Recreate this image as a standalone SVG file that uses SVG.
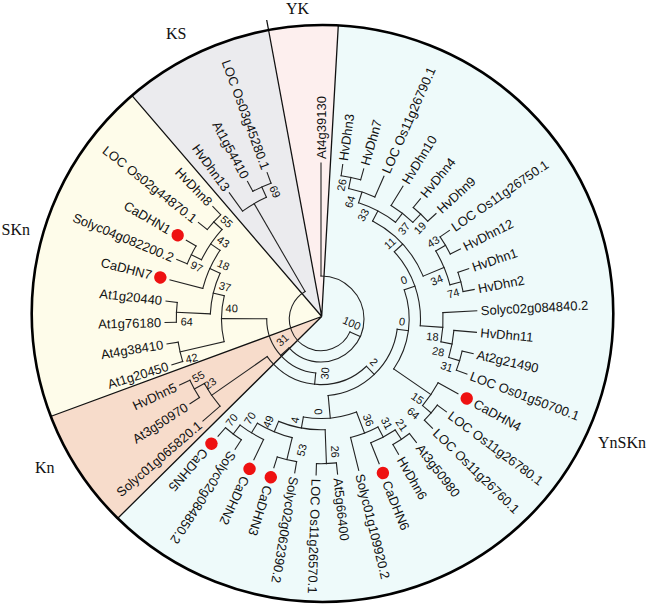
<svg xmlns="http://www.w3.org/2000/svg" width="648" height="612" viewBox="0 0 648 612">
<style>
.w{stroke:none}
.bd{stroke:#111;stroke-width:1.3;fill:none}
.br line,.br circle{fill:none;stroke:#222;stroke-width:1.1;stroke-linecap:square}
.lf{font-family:"Liberation Sans",Arial,sans-serif;font-size:13px;fill:#111}
.bs{font-family:"Liberation Sans",Arial,sans-serif;font-size:11px;fill:#111;text-anchor:middle}
.ttl{font-family:"Liberation Serif","Times New Roman",serif;font-size:16px;fill:#111}
.dot{fill:#ee1111}
</style>
<rect width="648" height="612" fill="#fff"/>
<g id="wedges">
<path class="w" fill="#ebebee" d="M321.7,316.5 L132,95.7 A290.8,288.5 0 0 1 268,30.1 Z"/>
<path class="w" fill="#fdefee" d="M321.7,316.5 L268,30.1 A290.8,288.5 0 0 1 338.3,25.4 Z"/>
<path class="w" fill="#eefafa" d="M321.7,316.5 L338.3,25.4 A290.8,288.5 0 1 1 118,518 Z"/>
<path class="w" fill="#f7dccb" d="M321.7,316.5 L118,518 A290.8,288.5 0 0 1 50.5,416.5 Z"/>
<path class="w" fill="#fefcea" d="M321.7,316.5 L50.5,416.5 A290.8,288.5 0 0 1 132,95.7 Z"/>
<path class="bd" d="M321.7,316.5 L132,95.7 M321.7,316.5 L266.7,20 M321.7,316.5 L338.3,25.4 M321.7,316.5 L50.5,416.5 M321.7,316.5 L118,518"/>
<ellipse cx="322.5" cy="313.5" rx="290.8" ry="288.5" fill="none" stroke="#000" stroke-width="2.6"/>
</g>
<g id="titles">
<text class="ttl" x="286" y="14">YK</text>
<text class="ttl" x="166" y="38.5">KS</text>
<text class="ttl" x="1.5" y="235">SKn</text>
<text class="ttl" x="35" y="472.5">Kn</text>
<text class="ttl" x="598" y="448">YnSKn</text>
</g>
<g id="connectors" class="br" transform="translate(321 319)">
<circle r="31.7" pathLength="360" stroke-dasharray="215.9 400" transform="rotate(24)"/>
<circle r="43" pathLength="360" stroke-dasharray="227.9 400" transform="rotate(-90)"/>
<circle r="54.3" pathLength="360" stroke-dasharray="84.6 400" transform="rotate(95.6)"/>
<circle r="65.6" pathLength="360" stroke-dasharray="99 400" transform="rotate(46.1)"/>
<circle r="76.9" pathLength="360" stroke-dasharray="77.05 400" transform="rotate(7.6)"/>
<circle r="88.2" pathLength="360" stroke-dasharray="53.8 400" transform="rotate(-19.3)"/>
<circle r="99.5" pathLength="360" stroke-dasharray="46.4 400" transform="rotate(-42.5)"/>
<circle r="110.8" pathLength="360" stroke-dasharray="39.5 400" transform="rotate(-62.25)"/>
<circle r="122.1" pathLength="360" stroke-dasharray="19.7 400" transform="rotate(-72.1)"/>
<circle r="133.4" pathLength="360" stroke-dasharray="11.85 400" transform="rotate(-78.05)"/>
<circle r="144.7" pathLength="360" stroke-dasharray="7.9 400" transform="rotate(-82)"/>
<circle r="133.4" pathLength="360" stroke-dasharray="11.85 400" transform="rotate(-58.3)"/>
<circle r="144.7" pathLength="360" stroke-dasharray="7.9 400" transform="rotate(-50.4)"/>
<circle r="133.4" pathLength="360" stroke-dasharray="15.8 400" transform="rotate(-30.65)"/>
<circle r="144.7" pathLength="360" stroke-dasharray="7.9 400" transform="rotate(-34.6)"/>
<circle r="144.7" pathLength="360" stroke-dasharray="7.9 400" transform="rotate(-18.8)"/>
<circle r="122.1" pathLength="360" stroke-dasharray="13.8 400" transform="rotate(-3)"/>
<circle r="133.4" pathLength="360" stroke-dasharray="11.85 400" transform="rotate(4.9)"/>
<circle r="144.7" pathLength="360" stroke-dasharray="7.9 400" transform="rotate(12.8)"/>
<circle r="133.4" pathLength="360" stroke-dasharray="11.85 400" transform="rotate(28.6)"/>
<circle r="144.7" pathLength="360" stroke-dasharray="7.9 400" transform="rotate(36.5)"/>
<circle r="99.5" pathLength="360" stroke-dasharray="31.1 400" transform="rotate(69.1)"/>
<circle r="122.1" pathLength="360" stroke-dasharray="13.8 400" transform="rotate(62.2)"/>
<circle r="133.4" pathLength="360" stroke-dasharray="11.85 400" transform="rotate(56.25)"/>
<circle r="144.7" pathLength="360" stroke-dasharray="7.9 400" transform="rotate(52.3)"/>
<circle r="110.8" pathLength="360" stroke-dasharray="24.65 400" transform="rotate(87.85)"/>
<circle r="144.7" pathLength="360" stroke-dasharray="7.9 400" transform="rotate(83.9)"/>
<circle r="122.1" pathLength="360" stroke-dasharray="17.75 400" transform="rotate(103.65)"/>
<circle r="144.7" pathLength="360" stroke-dasharray="7.9 400" transform="rotate(99.7)"/>
<circle r="133.4" pathLength="360" stroke-dasharray="11.85 400" transform="rotate(115.5)"/>
<circle r="144.7" pathLength="360" stroke-dasharray="7.9 400" transform="rotate(123.4)"/>
<circle r="133.4" pathLength="360" stroke-dasharray="11.85 400" transform="rotate(139.2)"/>
<circle r="144.7" pathLength="360" stroke-dasharray="7.9 400" transform="rotate(147.1)"/>
<circle r="99.5" pathLength="360" stroke-dasharray="26.65 400" transform="rotate(166.85)"/>
<circle r="144.7" pathLength="360" stroke-dasharray="7.9 400" transform="rotate(162.9)"/>
<circle r="110.8" pathLength="360" stroke-dasharray="21.75 400" transform="rotate(182.65)"/>
<circle r="144.7" pathLength="360" stroke-dasharray="7.9 400" transform="rotate(178.7)"/>
<circle r="122.1" pathLength="360" stroke-dasharray="19.75 400" transform="rotate(194.5)"/>
<circle r="133.4" pathLength="360" stroke-dasharray="15.8 400" transform="rotate(206.35)"/>
<circle r="144.7" pathLength="360" stroke-dasharray="7.9 400" transform="rotate(202.4)"/>
<circle r="144.7" pathLength="360" stroke-dasharray="7.9 400" transform="rotate(218.2)"/>
<circle r="133.4" pathLength="360" stroke-dasharray="11.85 400" transform="rotate(234)"/>
<circle r="144.7" pathLength="360" stroke-dasharray="7.9 400" transform="rotate(241.9)"/>
<line x1="31.7" x2="43" transform="rotate(24)"/>
<line x1="31.7" x2="133.4" transform="rotate(239.9)"/>
<line x1="43" x2="156" transform="rotate(-90)"/>
<line x1="43" x2="54.3" transform="rotate(137.9)"/>
<line x1="54.3" x2="65.6" transform="rotate(95.6)"/>
<line x1="54.3" x2="99.5" transform="rotate(180.2)"/>
<line x1="65.6" x2="76.9" transform="rotate(46.1)"/>
<line x1="65.6" x2="133.4" transform="rotate(145.1)"/>
<line x1="76.9" x2="88.2" transform="rotate(7.6)"/>
<line x1="76.9" x2="99.5" transform="rotate(84.65)"/>
<line x1="88.2" x2="99.5" transform="rotate(-19.3)"/>
<line x1="88.2" x2="133.4" transform="rotate(34.5)"/>
<line x1="99.5" x2="110.8" transform="rotate(-42.5)"/>
<line x1="99.5" x2="122.1" transform="rotate(3.9)"/>
<line x1="110.8" x2="122.1" transform="rotate(-62.25)"/>
<line x1="110.8" x2="133.4" transform="rotate(-22.75)"/>
<line x1="122.1" x2="133.4" transform="rotate(-72.1)"/>
<line x1="122.1" x2="133.4" transform="rotate(-52.4)"/>
<line x1="133.4" x2="144.7" transform="rotate(-78.05)"/>
<line x1="133.4" x2="156" transform="rotate(-66.2)"/>
<line x1="144.7" x2="156" transform="rotate(-82)"/>
<line x1="144.7" x2="156" transform="rotate(-74.1)"/>
<line x1="133.4" x2="156" transform="rotate(-58.3)"/>
<line x1="133.4" x2="144.7" transform="rotate(-46.45)"/>
<line x1="144.7" x2="156" transform="rotate(-50.4)"/>
<line x1="144.7" x2="156" transform="rotate(-42.5)"/>
<line x1="133.4" x2="144.7" transform="rotate(-30.65)"/>
<line x1="133.4" x2="144.7" transform="rotate(-14.85)"/>
<line x1="144.7" x2="156" transform="rotate(-34.6)"/>
<line x1="144.7" x2="156" transform="rotate(-26.7)"/>
<line x1="144.7" x2="156" transform="rotate(-18.8)"/>
<line x1="144.7" x2="156" transform="rotate(-10.9)"/>
<line x1="122.1" x2="156" transform="rotate(-3)"/>
<line x1="122.1" x2="133.4" transform="rotate(10.8)"/>
<line x1="133.4" x2="156" transform="rotate(4.9)"/>
<line x1="133.4" x2="144.7" transform="rotate(16.75)"/>
<line x1="144.7" x2="156" transform="rotate(12.8)"/>
<line x1="144.7" x2="156" transform="rotate(20.7)"/>
<line x1="133.4" x2="156" transform="rotate(28.6)"/>
<line x1="133.4" x2="144.7" transform="rotate(40.45)"/>
<line x1="144.7" x2="156" transform="rotate(36.5)"/>
<line x1="144.7" x2="156" transform="rotate(44.4)"/>
<line x1="99.5" x2="122.1" transform="rotate(69.1)"/>
<line x1="99.5" x2="110.8" transform="rotate(100.2)"/>
<line x1="122.1" x2="133.4" transform="rotate(62.2)"/>
<line x1="122.1" x2="156" transform="rotate(76)"/>
<line x1="133.4" x2="144.7" transform="rotate(56.25)"/>
<line x1="133.4" x2="156" transform="rotate(68.1)"/>
<line x1="144.7" x2="156" transform="rotate(52.3)"/>
<line x1="144.7" x2="156" transform="rotate(60.2)"/>
<line x1="110.8" x2="144.7" transform="rotate(87.85)"/>
<line x1="110.8" x2="122.1" transform="rotate(112.5)"/>
<line x1="144.7" x2="156" transform="rotate(83.9)"/>
<line x1="144.7" x2="156" transform="rotate(91.8)"/>
<line x1="122.1" x2="144.7" transform="rotate(103.65)"/>
<line x1="122.1" x2="133.4" transform="rotate(121.4)"/>
<line x1="144.7" x2="156" transform="rotate(99.7)"/>
<line x1="144.7" x2="156" transform="rotate(107.6)"/>
<line x1="133.4" x2="156" transform="rotate(115.5)"/>
<line x1="133.4" x2="144.7" transform="rotate(127.35)"/>
<line x1="144.7" x2="156" transform="rotate(123.4)"/>
<line x1="144.7" x2="156" transform="rotate(131.3)"/>
<line x1="133.4" x2="156" transform="rotate(139.2)"/>
<line x1="133.4" x2="144.7" transform="rotate(151.05)"/>
<line x1="144.7" x2="156" transform="rotate(147.1)"/>
<line x1="144.7" x2="156" transform="rotate(155)"/>
<line x1="99.5" x2="144.7" transform="rotate(166.85)"/>
<line x1="99.5" x2="110.8" transform="rotate(193.5)"/>
<line x1="144.7" x2="156" transform="rotate(162.9)"/>
<line x1="144.7" x2="156" transform="rotate(170.8)"/>
<line x1="110.8" x2="144.7" transform="rotate(182.65)"/>
<line x1="110.8" x2="122.1" transform="rotate(204.4)"/>
<line x1="144.7" x2="156" transform="rotate(178.7)"/>
<line x1="144.7" x2="156" transform="rotate(186.6)"/>
<line x1="122.1" x2="156" transform="rotate(194.5)"/>
<line x1="122.1" x2="133.4" transform="rotate(214.25)"/>
<line x1="133.4" x2="144.7" transform="rotate(206.35)"/>
<line x1="133.4" x2="144.7" transform="rotate(222.15)"/>
<line x1="144.7" x2="156" transform="rotate(202.4)"/>
<line x1="144.7" x2="156" transform="rotate(210.3)"/>
<line x1="144.7" x2="156" transform="rotate(218.2)"/>
<line x1="144.7" x2="156" transform="rotate(226.1)"/>
<line x1="133.4" x2="156" transform="rotate(234)"/>
<line x1="133.4" x2="144.7" transform="rotate(245.85)"/>
<line x1="144.7" x2="156" transform="rotate(241.9)"/>
<line x1="144.7" x2="156" transform="rotate(249.8)"/>
</g>
<g id="leaves" transform="translate(321 319)">
<g id="L0"><text class="lf" x="160" dy=".35em" transform="rotate(-90)">At4g39130</text></g>
<g id="L1"><text class="lf" x="160" dy=".35em" transform="rotate(-82)">HvDhn3</text></g>
<g id="L2"><text class="lf" x="160" dy=".35em" transform="rotate(-74.1)">HvDhn7</text></g>
<g id="L3"><text class="lf" x="160" dy=".35em" transform="rotate(-66.2)">LOC Os11g26790.1</text></g>
<g id="L4"><text class="lf" x="160" dy=".35em" transform="rotate(-58.3)">HvDhn10</text></g>
<g id="L5"><text class="lf" x="160" dy=".35em" transform="rotate(-50.4)">HvDhn4</text></g>
<g id="L6"><text class="lf" x="160" dy=".35em" transform="rotate(-42.5)">HvDhn9</text></g>
<g id="L7"><text class="lf" x="160" dy=".35em" transform="rotate(-34.6)">LOC Os11g26750.1</text></g>
<g id="L8"><text class="lf" x="160" dy=".35em" transform="rotate(-26.7)">HvDhn12</text></g>
<g id="L9"><text class="lf" x="160" dy=".35em" transform="rotate(-18.8)">HvDhn1</text></g>
<g id="L10"><text class="lf" x="160" dy=".35em" transform="rotate(-10.9)">HvDhn2</text></g>
<g id="L11"><text class="lf" x="160" dy=".35em" transform="rotate(-3)">Solyc02g084840.2</text></g>
<g id="L12"><text class="lf" x="160" dy=".35em" transform="rotate(4.9)">HvDhn11</text></g>
<g id="L13"><text class="lf" x="160" dy=".35em" transform="rotate(12.8)">At2g21490</text></g>
<g id="L14"><text class="lf" x="160" dy=".35em" transform="rotate(20.7)">LOC Os01g50700.1</text></g>
<g id="L15" transform="rotate(28.6)"><circle class="dot" cx="166" r="6.2"/><text class="lf" x="175" dy=".35em">CaDHN4</text></g>
<g id="L16"><text class="lf" x="160" dy=".35em" transform="rotate(36.5)">LOC Os11g26780.1</text></g>
<g id="L17"><text class="lf" x="160" dy=".35em" transform="rotate(44.4)">LOC Os11g26760.1</text></g>
<g id="L18"><text class="lf" x="160" dy=".35em" transform="rotate(52.3)">At3g50980</text></g>
<g id="L19"><text class="lf" x="160" dy=".35em" transform="rotate(60.2)">HvDhn6</text></g>
<g id="L20" transform="rotate(68.1)"><circle class="dot" cx="166" r="6.2"/><text class="lf" x="175" dy=".35em">CaDHN6</text></g>
<g id="L21"><text class="lf" x="160" dy=".35em" transform="rotate(76)">Solyc01g109920.2</text></g>
<g id="L22"><text class="lf" x="160" dy=".35em" transform="rotate(83.9)">At5g66400</text></g>
<g id="L23"><text class="lf" x="160" dy=".35em" transform="rotate(91.8)">LOC Os11g26570.1</text></g>
<g id="L24"><text class="lf" x="160" dy=".35em" transform="rotate(99.7)">Solyc02g062390.2</text></g>
<g id="L25" transform="rotate(107.6)"><circle class="dot" cx="166" r="6.2"/><text class="lf" x="175" dy=".35em">CaDHN3</text></g>
<g id="L26" transform="rotate(115.5)"><circle class="dot" cx="166" r="6.2"/><text class="lf" x="175" dy=".35em">CaDHN2</text></g>
<g id="L27"><text class="lf" x="160" dy=".35em" transform="rotate(123.4)">Solyc02g084850.2</text></g>
<g id="L28" transform="rotate(131.3)"><circle class="dot" cx="166" r="6.2"/><text class="lf" x="175" dy=".35em">CaDHN5</text></g>
<g id="L29"><text class="lf" x="-160" dy=".35em" text-anchor="end" transform="rotate(-40.8)">Solyc01g065820.1</text></g>
<g id="L30"><text class="lf" x="-160" dy=".35em" text-anchor="end" transform="rotate(-32.9)">At3g50970</text></g>
<g id="L31"><text class="lf" x="-160" dy=".35em" text-anchor="end" transform="rotate(-25)">HvDhn5</text></g>
<g id="L32"><text class="lf" x="-160" dy=".35em" text-anchor="end" transform="rotate(-17.1)">At1g20450</text></g>
<g id="L33"><text class="lf" x="-160" dy=".35em" text-anchor="end" transform="rotate(-9.2)">At4g38410</text></g>
<g id="L34"><text class="lf" x="-160" dy=".35em" text-anchor="end" transform="rotate(-1.3)">At1g76180</text></g>
<g id="L35"><text class="lf" x="-160" dy=".35em" text-anchor="end" transform="rotate(6.6)">At1g20440</text></g>
<g id="L36" transform="rotate(14.5)"><circle class="dot" cx="-166" r="6.2"/><text class="lf" x="-175" dy=".35em" text-anchor="end">CaDHN7</text></g>
<g id="L37"><text class="lf" x="-160" dy=".35em" text-anchor="end" transform="rotate(22.4)">Solyc04g082200.2</text></g>
<g id="L38" transform="rotate(30.3)"><circle class="dot" cx="-166" r="6.2"/><text class="lf" x="-175" dy=".35em" text-anchor="end">CaDHN1</text></g>
<g id="L39"><text class="lf" x="-160" dy=".35em" text-anchor="end" transform="rotate(38.2)">LOC Os02g44870.1</text></g>
<g id="L40"><text class="lf" x="-160" dy=".35em" text-anchor="end" transform="rotate(46.1)">HvDhn8</text></g>
<g id="L41"><text class="lf" x="-160" dy=".35em" text-anchor="end" transform="rotate(54)">HvDhn13</text></g>
<g id="L42"><text class="lf" x="-160" dy=".35em" text-anchor="end" transform="rotate(61.9)">At1g54410</text></g>
<g id="L43"><text class="lf" x="-160" dy=".35em" text-anchor="end" transform="rotate(69.8)">LOC Os03g45280.1</text></g>
</g>
<g id="bootstrap">
<text class="bs" dy=".35em" transform="translate(341.7 185) rotate(-78)">26</text>
<text class="bs" dy=".35em" transform="translate(350 201.7) rotate(-72)">64</text>
<text class="bs" dy=".35em" transform="translate(363.3 215) rotate(-62)">33</text>
<text class="bs" dy=".35em" transform="translate(404 228.5) rotate(-52)">37</text>
<text class="bs" dy=".35em" transform="translate(420 228) rotate(-46)">19</text>
<text class="bs" dy=".35em" transform="translate(390 243.3) rotate(-42)">11</text>
<text class="bs" dy=".35em" transform="translate(433.3 241.7) rotate(-31)">43</text>
<text class="bs" dy=".35em" transform="translate(436.7 280) rotate(-23)">34</text>
<text class="bs" dy=".35em" transform="translate(453.3 293.3) rotate(-15)">74</text>
<text class="bs" dy=".35em" transform="translate(404 280) rotate(-19)">0</text>
<text class="bs" dy=".35em" transform="translate(402 321.7) rotate(8)">0</text>
<text class="bs" dy=".35em" transform="translate(432.5 336.7) rotate(4)">18</text>
<text class="bs" dy=".35em" transform="translate(438.3 351.7) rotate(11)">28</text>
<text class="bs" dy=".35em" transform="translate(446.7 366.7) rotate(17)">31</text>
<text class="bs" dy=".35em" transform="translate(417.5 398.3) rotate(34.5)">15</text>
<text class="bs" dy=".35em" transform="translate(413.3 413.3) rotate(40)">64</text>
<text class="bs" dy=".35em" transform="translate(401.7 425) rotate(56)">21</text>
<text class="bs" dy=".35em" transform="translate(386.7 423.3) rotate(62)">31</text>
<text class="bs" dy=".35em" transform="translate(368.3 420) rotate(69)">36</text>
<text class="bs" dy=".35em" transform="translate(335 451.7) rotate(88)">26</text>
<text class="bs" dy=".35em" transform="translate(318.3 411.7) rotate(85)">0</text>
<text class="bs" dy=".35em" transform="translate(295 420) rotate(-80)">4</text>
<text class="bs" dy=".35em" transform="translate(301.7 450) rotate(-76)">53</text>
<text class="bs" dy=".35em" transform="translate(268.3 421.7) rotate(-67.5)">49</text>
<text class="bs" dy=".35em" transform="translate(250 418.3) rotate(-58.6)">70</text>
<text class="bs" dy=".35em" transform="translate(231.7 420) rotate(-52.6)">70</text>
<text class="bs" dy=".35em" transform="translate(374 362) rotate(46)">2</text>
<text class="bs" dy=".35em" transform="translate(325 373.3) rotate(-84.4)">30</text>
<text class="bs" dy=".35em" transform="translate(351.7 323.3) rotate(24)">100</text>
<text class="bs" dy=".35em" transform="translate(282.5 340) rotate(-42)">31</text>
<text class="bs" dy=".35em" transform="translate(198.3 376.7) rotate(-29)">55</text>
<text class="bs" dy=".35em" transform="translate(210 383.3) rotate(-35)">23</text>
<text class="bs" dy=".35em" transform="translate(191.7 358.3) rotate(-13)">42</text>
<text class="bs" dy=".35em" transform="translate(186.7 321.7) rotate(2.6)">64</text>
<text class="bs" dy=".35em" transform="translate(231.7 308.3) rotate(0.2)">40</text>
<text class="bs" dy=".35em" transform="translate(225 286.7) rotate(13.5)">37</text>
<text class="bs" dy=".35em" transform="translate(223.3 265) rotate(24.4)">18</text>
<text class="bs" dy=".35em" transform="translate(223.3 241.7) rotate(34)">43</text>
<text class="bs" dy=".35em" transform="translate(226.7 221.7) rotate(42)">55</text>
<text class="bs" dy=".35em" transform="translate(196.7 266.7) rotate(26)">97</text>
<text class="bs" dy=".35em" transform="translate(275 191.7) rotate(66)">69</text>
</g>
</svg>
